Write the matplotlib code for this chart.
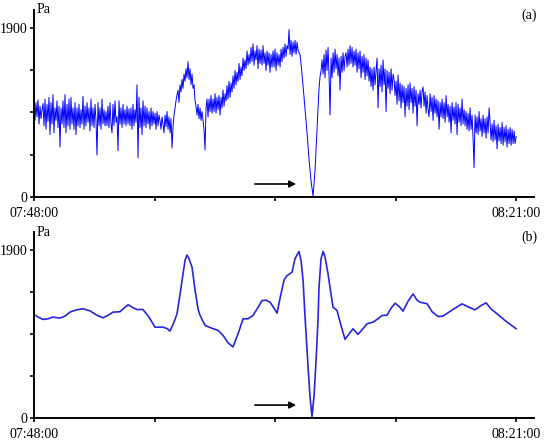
"""Two-panel pressure trace (raw and filtered), 07:48:00 - 08:21:00."""

import matplotlib

matplotlib.use("Agg")
import matplotlib.pyplot as plt  # noqa: E402
import numpy as np

plt.rcParams["font.family"] = ["Liberation Serif", "DejaVu Serif"]

# panel (a): raw pressure in Pa, evenly spaced over 0..33 min (483 samples)
raw_pa = [
    1000, 860, 1060, 900, 1090, 820, 1020, 880, 980, 1050, 800, 1100, 760, 1040, 850, 1120, 700, 1060, 820, 1150, 720, 1000, 860, 1080,
    780, 1020, 560, 1000, 820, 1080, 780, 1150, 720, 1040, 800, 1100, 760, 1120, 820, 1000, 760, 1060, 700, 1000, 800, 1040, 780, 980,
    820, 1130, 760, 1020, 800, 1060, 840, 1000, 740, 1100, 800, 1000, 780, 1040, 860, 470, 1060, 800, 1000, 760, 1100, 820, 980, 800,
    960, 800, 1020, 780, 1060, 820, 720, 1040, 800, 1080, 840, 900, 520, 1080, 820, 1000, 780, 1040, 820, 980, 800, 1020, 820, 990,
    800, 1000, 760, 1040, 800, 980, 840, 1260, 440, 1120, 780, 1000, 700, 1080, 800, 1020, 780, 1000, 820, 960, 760, 1000, 800, 960,
    820, 940, 760, 960, 800, 920, 860, 760, 900, 820, 720, 920, 790, 960, 760, 900, 720, 880, 550, 780, 920, 1000, 1080, 1150,
    1200, 1060, 1260, 1180, 1320, 1220, 1380, 1300, 1440, 1340, 1520, 1320, 1440, 1260, 1380, 1220, 1260, 1080, 1020, 920, 1040, 880, 1000, 860,
    960, 860, 760, 530, 1000, 1100, 900, 1100, 960, 1140, 940, 1100, 960, 1160, 940, 1120, 980, 1140, 920, 1120, 1000, 1200, 1020, 1160,
    1080, 1250, 1100, 1300, 1120, 1280, 1180, 1360, 1220, 1420, 1260, 1400, 1300, 1500, 1320, 1460, 1360, 1560, 1420, 1540, 1440, 1640, 1480, 1600,
    1500, 1680, 1520, 1720, 1480, 1640, 1540, 1700, 1440, 1660, 1500, 1650, 1480, 1700, 1500, 1620, 1420, 1640, 1480, 1620, 1400, 1600, 1460, 1640,
    1460, 1660, 1420, 1620, 1480, 1600, 1460, 1660, 1520, 1680, 1560, 1720, 1580, 1700, 1660, 1880, 1600, 1760, 1580, 1740, 1620, 1760, 1600, 1740,
    1650, 1620, 1600, 1500, 1380, 1250, 1120, 1000, 860, 720, 570, 420, 300, 180, 90, 10, 150, 300, 540, 780, 1000, 1220, 1350, 1420,
    1540, 1380, 1600, 1340, 1650, 1420, 1680, 1360, 920, 1560, 1340, 1620, 1400, 1660, 1440, 1600, 1360, 1560, 1200, 1580, 1400, 1620, 1420, 1580,
    1620, 1460, 1660, 1480, 1700, 1500, 1680, 1460, 1640, 1480, 1660, 1400, 1620, 1440, 1640, 1340, 1580, 1400, 1600, 1320, 1560, 1360, 1540, 1300,
    1460, 1240, 1440, 1200, 1460, 1260, 1420, 1560, 1000, 1440, 1240, 1480, 1180, 1540, 1260, 1440, 960, 1420, 1220, 1400, 1160, 1440, 1200, 1380,
    1320, 1140, 1300, 1040, 1370, 1080, 1280, 1000, 1260, 1060, 1240, 900, 1220, 1020, 1260, 980, 1280, 1060, 1220, 940, 1240, 1020, 1200, 800,
    1160, 1040, 1200, 1000, 1180, 1236, 1020, 1180, 940, 1140, 980, 900, 1160, 960, 1120, 860, 1140, 940, 1100, 900, 1080, 760, 1060, 900,
    1100, 880, 1060, 840, 1140, 900, 1040, 840, 1020, 720, 1060, 860, 1010, 820, 1060, 700, 1040, 840, 1000, 800, 1100, 820, 980, 800,
    960, 760, 940, 740, 1000, 760, 920, 660, 330, 920, 720, 900, 700, 960, 740, 880, 680, 920, 720, 880, 660, 900, 720, 1000,
    840, 640, 820, 620, 860, 640, 800, 540, 820, 630, 780, 600, 840, 580, 780, 620, 800, 560, 760, 600, 780, 580, 760, 600,
    740, 600, 680,
]

# panel (b): filtered pressure, minutes after 07:48:00 and Pa
filt_min = [
    0.0, 0.27, 0.62, 0.96, 1.30, 1.78, 2.12, 2.46, 2.88, 3.35, 3.83, 4.31, 4.72, 5.07, 5.41, 5.89,
    6.16, 6.44, 6.78, 7.05, 7.46, 7.87, 8.28, 8.83, 9.11, 9.31, 9.58, 9.79, 10.0, 10.20, 10.34,
    10.47, 10.61, 10.82, 11.02, 11.23, 11.37, 11.71, 12.26, 12.60, 12.94, 13.28, 13.62, 13.97,
    14.31, 14.65, 14.99, 15.34, 15.61, 15.88, 16.16, 16.43, 16.64, 16.84, 17.12, 17.32, 17.66,
    17.87, 18.14, 18.28, 18.42, 18.55, 18.76, 18.89, 19.03, 19.17, 19.31, 19.44, 19.51, 19.65,
    19.79, 19.92, 20.13, 20.33, 20.47, 20.74, 21.01, 21.29, 21.57, 21.84, 22.18, 22.53, 22.80,
    23.21, 23.55, 23.83, 24.17, 24.44, 24.72, 24.99, 25.26, 25.61, 25.95, 26.22, 26.43, 26.91,
    27.25, 27.66, 28.00, 28.62, 29.30, 29.78, 30.19, 30.60, 30.95, 31.29, 31.56, 32.25, 33.0,
]
filt_pa = [
    1169, 1140, 1113, 1120, 1139, 1128, 1150, 1195, 1220, 1233, 1210, 1160, 1131, 1160, 1195, 1200,
    1240, 1278, 1245, 1225, 1225, 1140, 1026, 1026, 1010, 981, 1080, 1177, 1400, 1626, 1780,
    1840, 1800, 1700, 1450, 1230, 1158, 1045, 1008, 990, 933, 850, 802, 950,
    1120, 1120, 1158, 1250, 1326, 1330, 1307, 1240, 1184, 1350, 1560, 1607, 1645,
    1800, 1881, 1780, 1551, 1150, 577, 250, 15, 250, 652, 1100, 1476, 1800,
    1881, 1820, 1626, 1400, 1251, 1214, 1050, 888, 950, 1008, 944, 1010, 1064,
    1083, 1120, 1158, 1160, 1240, 1296, 1260, 1206, 1320, 1401, 1330, 1307, 1290,
    1200, 1146, 1150, 1220, 1289, 1250, 1221, 1270, 1300, 1230, 1195, 1100, 1008,
]

x_ticks = [0, 8.25, 16.5, 24.75, 33]
x_labels = ["07:48:00", "", "", "", "08:21:00"]
y_ticks = [0, 475, 950, 1425, 1900]
y_labels = ["0", "", "", "", "1900"]
panels = ["(a)", "(b)"]

fig = plt.figure(figsize=(5.5, 4.42), dpi=100)
ax_a = fig.add_axes([0.0618, 0.5543, 0.9092, 0.4231])
ax_b = fig.add_axes([0.0618, 0.0543, 0.9092, 0.4208])

raw_min = np.linspace(0, 33, len(raw_pa))
ax_a.plot(raw_min, raw_pa, color="#0000ff", lw=0.7)
ax_b.plot(filt_min, filt_pa, color="#2626dc", lw=1.2)

for ax, tag in zip([ax_a, ax_b], panels):
    ax.set_xlim(0, 34.23)
    ax.set_ylim(0, 2100)
    for side in ("top", "right"):
        ax.spines[side].set_visible(False)
    for side in ("left", "bottom"):
        ax.spines[side].set_linewidth(1.4)
    ax.set_xticks(x_ticks)
    ax.set_xticklabels(x_labels, fontsize=10)
    ax.set_yticks(y_ticks)
    ax.set_yticklabels(y_labels, fontsize=10)
    ax.tick_params(axis="y", length=3, width=1.2, pad=1.5)
    ax.tick_params(axis="x", length=3, width=1.2, pad=4)
    ax.text(0.006, 1.0, "Pa", transform=ax.transAxes, fontsize=10, va="center", ha="left")
    ax.text(0.99, 0.97, tag, transform=ax.transAxes, fontsize=10, va="center", ha="center")
    ax.annotate("", xy=(18.14, 146), xytext=(14.93, 146),
                arrowprops=dict(arrowstyle="-|>", color="black", lw=1.2, mutation_scale=10))

fig.savefig("out.png", dpi=100)
